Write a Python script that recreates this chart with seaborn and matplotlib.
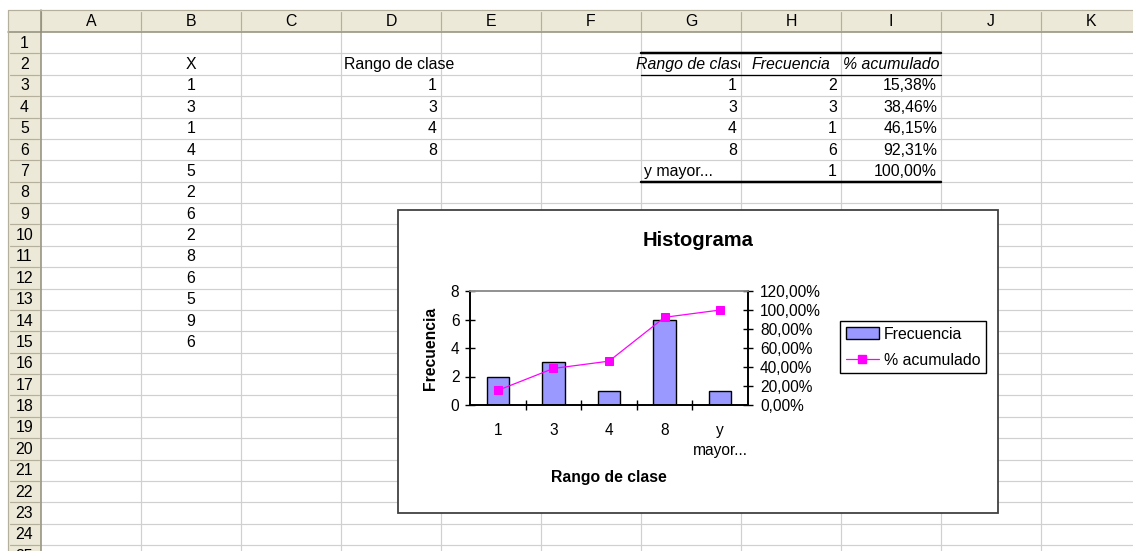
import numpy as np
import matplotlib
matplotlib.use('Agg')
import matplotlib.pyplot as plt
from matplotlib.patches import Rectangle, Patch
from matplotlib.lines import Line2D
from matplotlib.ticker import FixedLocator, FuncFormatter, NullFormatter
import seaborn as sns

# ---------------- data ----------------
x_values = [1, 3, 1, 4, 5, 2, 6, 2, 8, 6, 5, 9, 6]
class_bins = [1, 3, 4, 8]
categories = ['1', '3', '4', '8', 'y mayor...']
frequency = [2, 3, 1, 6, 1]
cumulative_pct = [15.38, 38.46, 46.15, 92.31, 100.00]
col_letters = ['A', 'B', 'C', 'D', 'E', 'F', 'G', 'H', 'I', 'J', 'K']
n_rows = 25
left_ticks = [0, 2, 4, 6, 8]
right_ticks = [0, 20, 40, 60, 80, 100, 120]

sns.set_style('white')
plt.rcParams['font.family'] = ['Liberation Sans', 'DejaVu Sans']
plt.rcParams['text.color'] = 'black'

W, H = 1133, 551
DPI = 100
PX = 72 / DPI
fig = plt.figure(figsize=(W / DPI, H / DPI), dpi=DPI)
fig.patch.set_facecolor('white')
bg = fig.add_axes([0, 0, 1, 1])
bg.set_xlim(0, W)
bg.set_ylim(H, 0)
bg.axis('off')

# ---------------- spreadsheet geometry ----------------
x0, hdr_w, col_w = 8, 33, 100
y0, hdr_h, row_h = 10, 22, 21.375
left_cells = x0 + hdr_w
top_cells = y0 + hdr_h
FS = 11.4


def col_left(i):
    return left_cells + i * col_w


def row_top(r):
    return top_cells + (r - 1) * row_h


def row_mid(r):
    return row_top(r) + row_h / 2 + 0.5


grid_c = '#D0D0D0'
hdr_fill = '#ECE9D8'
hdr_sep = '#B4B09C'
hdr_edge = '#8E8B78'

for i in range(1, len(col_letters) + 1):
    x = col_left(i)
    bg.plot([x, x], [top_cells, H], color=grid_c, lw=1.2 * PX, zorder=1)
for r in range(2, n_rows + 2):
    y = row_top(r)
    bg.plot([left_cells, W], [y, y], color=grid_c, lw=1.2 * PX, zorder=1)

# headers
bg.add_patch(Rectangle((x0, y0), W - x0, hdr_h, fc=hdr_fill, ec='none', zorder=2))
bg.add_patch(Rectangle((x0, y0), hdr_w, H - y0, fc=hdr_fill, ec='none', zorder=2))
for i, letter in enumerate(col_letters):
    cx = col_left(i) + col_w / 2
    bg.text(cx, y0 + hdr_h / 2 + 1, letter, ha='center', va='center', fontsize=FS, zorder=3)
    bg.plot([col_left(i), col_left(i)], [y0 + 2, y0 + hdr_h - 2], color=hdr_sep, lw=1.2 * PX, zorder=3)
for r in range(1, n_rows + 1):
    bg.text(x0 + hdr_w / 2, row_mid(r), str(r), ha='center', va='center', fontsize=FS, zorder=3)
    bg.plot([x0 + 2, x0 + hdr_w - 2], [row_top(r + 1), row_top(r + 1)], color=hdr_sep, lw=1.2 * PX, zorder=3)
bg.plot([x0, W], [top_cells, top_cells], color=hdr_edge, lw=1.5 * PX, zorder=4)
bg.plot([left_cells, left_cells], [y0, H], color=hdr_edge, lw=1.5 * PX, zorder=4)
bg.plot([x0, x0], [y0, H], color=hdr_sep, lw=1.2 * PX, zorder=4)
bg.plot([x0, W], [y0, y0], color=hdr_sep, lw=1.2 * PX, zorder=4)

# column B: X data
bg.text(col_left(1) + col_w / 2, row_mid(2), 'X', ha='center', va='center', fontsize=FS, zorder=3)
for k, v in enumerate(x_values):
    bg.text(col_left(1) + col_w / 2, row_mid(3 + k), str(v), ha='center', va='center', fontsize=FS, zorder=3)

# column D: bins
bg.text(col_left(3) + 3, row_mid(2), 'Rango de clase', ha='left', va='center', fontsize=FS, zorder=3)
for k, v in enumerate(class_bins):
    bg.text(col_left(4) - 4, row_mid(3 + k), str(v), ha='right', va='center', fontsize=FS, zorder=3)

# output table G..I
clip = Rectangle((0, 0), col_left(7) - 1, H, transform=bg.transData)
t = bg.text(col_left(6) + col_w / 2, row_mid(2), 'Rango de clase', ha='center', va='center',
            fontsize=FS, style='italic', zorder=3)
t.set_clip_on(True)
t.set_clip_path(clip)
bg.text(col_left(7) + col_w / 2, row_mid(2), 'Frecuencia', ha='center', va='center',
        fontsize=FS, style='italic', zorder=3)
bg.text(col_left(8) + col_w / 2, row_mid(2), '% acumulado', ha='center', va='center',
        fontsize=FS, style='italic', zorder=3)
for k, cat in enumerate(categories):
    r = 3 + k
    if k < len(class_bins):
        bg.text(col_left(7) - 4, row_mid(r), cat, ha='right', va='center', fontsize=FS, zorder=3)
    else:
        bg.text(col_left(6) + 3, row_mid(r), cat, ha='left', va='center', fontsize=FS, zorder=3)
    bg.text(col_left(8) - 4, row_mid(r), str(frequency[k]), ha='right', va='center', fontsize=FS, zorder=3)
    bg.text(col_left(9) - 4, row_mid(r), f"{cumulative_pct[k]:.2f}%".replace('.', ','),
            ha='right', va='center', fontsize=FS, zorder=3)
bg.plot([col_left(6), col_left(9)], [row_top(2), row_top(2)], color='black', lw=2.5 * PX, zorder=4)
bg.plot([col_left(6), col_left(9)], [row_top(3), row_top(3)], color='black', lw=1.3 * PX, zorder=4)
bg.plot([col_left(6), col_left(9)], [row_top(8), row_top(8)], color='black', lw=2.5 * PX, zorder=4)

# ---------------- chart object ----------------
bg.add_patch(Rectangle((398, 210), 600, 303, fc='white', ec='#404040', lw=1.8 * PX, zorder=10))
fig.text(698 / W, 1 - 241 / H, 'Histograma', ha='center', va='center', fontweight='bold', fontsize=14.5)

pl, pr, pt, pb = 470, 748, 291, 405
ax = fig.add_axes([pl / W, 1 - pb / H, (pr - pl) / W, (pb - pt) / H])
ax.set_facecolor('white')
sns.barplot(x=categories, y=frequency, color='#9999FF', saturation=1, edgecolor='black',
            linewidth=1.0, width=0.4, ax=ax)
ax.set_ylim(0, 8)
ax.set_yticks(left_ticks)
ax.set_yticklabels([str(v) for v in left_ticks])

ax2 = ax.twinx()
sns.lineplot(x=np.arange(len(categories)), y=cumulative_pct, ax=ax2, color='#FF00FF',
             marker='s', markersize=5.5, markeredgecolor='#FF00FF', linewidth=0.9, legend=False)
ax2.set_ylim(0, 120)
ax2.yaxis.set_major_locator(FixedLocator(right_ticks))
ax2.yaxis.set_major_formatter(FuncFormatter(lambda v, p: f"{v:.2f}%".replace('.', ',')))
ax2.set_ylabel('')

ax.set_xlim(-0.5, len(categories) - 0.5)
ax.set_xticks(range(len(categories)))
ax.set_xticklabels([c.replace(' ', '\n') for c in categories], linespacing=1.45)
ax.xaxis.set_minor_locator(FixedLocator([i + 0.5 for i in range(len(categories) - 1)]))
ax.xaxis.set_minor_formatter(NullFormatter())
ax.tick_params(axis='x', which='major', length=0, pad=13, labelsize=11.2, colors='black')
ax.tick_params(axis='x', which='minor', direction='inout', length=6.5,
               width=1.0, color='black', bottom=True)
ax.tick_params(axis='y', direction='inout', length=7.2, width=1.0, pad=4, labelsize=11.2,
               colors='black', left=True)
ax2.tick_params(axis='y', direction='inout', length=7.2, width=1.0, pad=5, labelsize=11.2,
                colors='black', right=True)

for a in (ax, ax2):
    for s in ('left', 'bottom', 'right'):
        a.spines[s].set_color('black')
        a.spines[s].set_linewidth(1.2)
    a.spines['top'].set_color('#909090')
    a.spines['top'].set_linewidth(1.2)
ax2.patch.set_visible(False)

ax.set_ylabel('Frecuencia', fontweight='bold', fontsize=11.3, color='black')
ax.yaxis.set_label_coords(-(pl - 438) / (pr - pl), 0.5)
ax.set_xlabel('Rango de clase', fontweight='bold', fontsize=11.3, color='black')
ax.xaxis.set_label_coords(0.5, -(470 - pb) / (pb - pt))

handles = [Patch(facecolor='#9999FF', edgecolor='black', linewidth=1.0),
           Line2D([0], [0], color='#FF00FF', marker='s', markersize=5.5, linewidth=0.9)]
leg = fig.legend(handles=handles, labels=['Frecuencia', '% acumulado'], loc='upper left',
                 bbox_to_anchor=(840 / W, 1 - 321 / H), frameon=True, fancybox=False,
                 edgecolor='black', framealpha=1, fontsize=11.4, borderpad=0.35,
                 labelspacing=0.7, handlelength=2.1, handletextpad=0.3, borderaxespad=0)
leg.get_frame().set_linewidth(1.0)
leg.set_zorder(20)

fig.savefig('out.png', dpi=DPI, facecolor='white')
